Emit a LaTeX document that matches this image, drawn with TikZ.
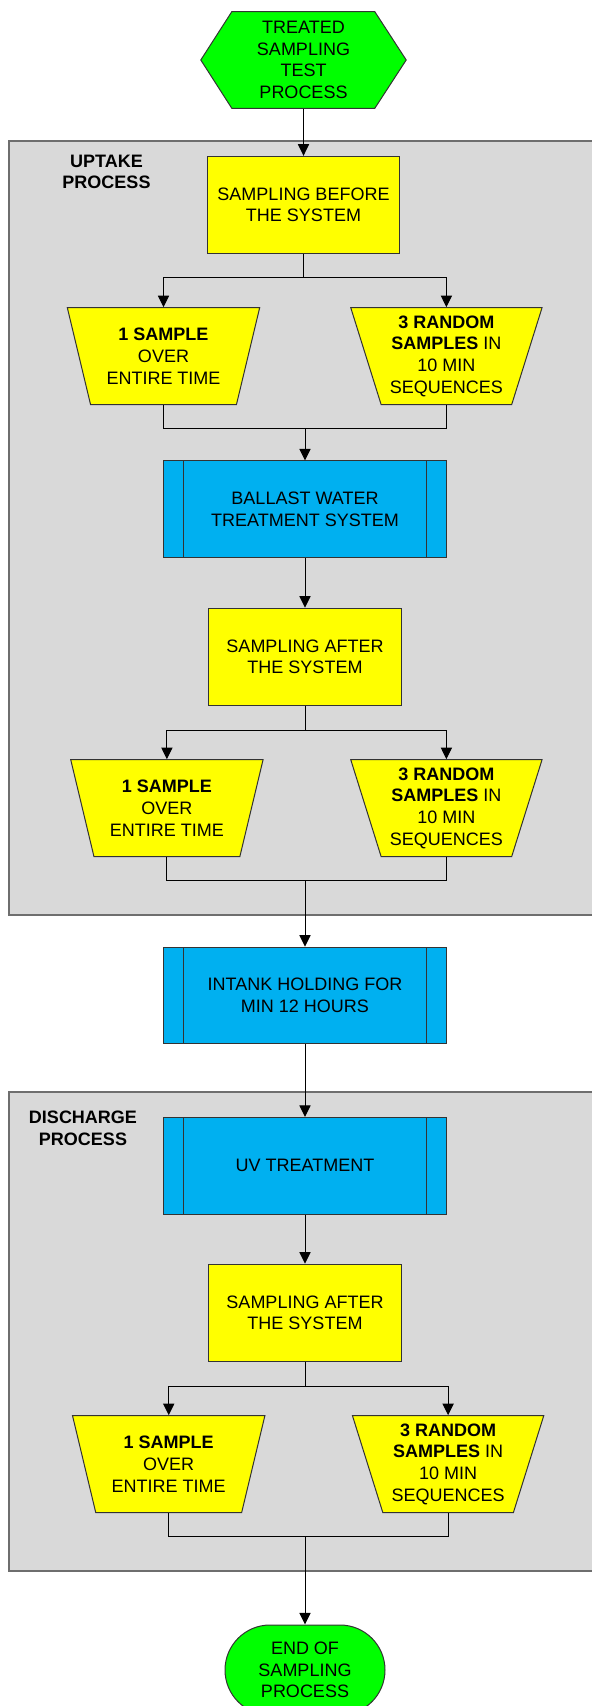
\documentclass[tikz,border=0pt]{standalone}
\usepackage{fontspec}
\setmainfont{Liberation Sans}
\usetikzlibrary{shapes.geometric,shapes.misc,arrows.meta}
\definecolor{startgreen}{HTML}{00FF00}
\definecolor{stepyellow}{HTML}{FFFF00}
\definecolor{procblue}{HTML}{00B0F0}
\definecolor{groupgrey}{HTML}{D9D9D9}
\definecolor{groupline}{HTML}{6E6E6E}
\definecolor{edgeline}{HTML}{333333}

\tikzset{
  every node/.style={font=\fontsize{9}{10.85}\selectfont, align=center, inner sep=0pt},
  groupbox/.style={fill=groupgrey, draw=groupline, line width=1pt},
  grouplabel/.style={font=\fontsize{9}{10.85}\selectfont\bfseries},
  samplebox/.style={draw=edgeline, fill=stepyellow, line width=0.5pt,
    minimum width=96.3pt, minimum height=48.5pt},
  pickbox/.style={trapezium, trapezium left angle=108, trapezium right angle=108,
    trapezium stretches=true, draw=edgeline, fill=stepyellow, line width=0.5pt,
    minimum width=96.25pt, minimum height=48.5pt},
  treatbox/.style={draw=edgeline, fill=procblue, line width=0.5pt,
    minimum width=141.5pt, minimum height=48.3pt,
    path picture={\draw[edgeline, line width=0.5pt]
      ([xshift=9.8pt]path picture bounding box.north west) -- ([xshift=9.8pt]path picture bounding box.south west)
      ([xshift=-9.8pt]path picture bounding box.north east) -- ([xshift=-9.8pt]path picture bounding box.south east);}},
  endbox/.style={rounded rectangle, draw=edgeline, fill=startgreen, line width=0.5pt,
    minimum width=80pt, minimum height=45pt},
  flow/.style={line width=0.5pt, -{Triangle[length=5.8pt,width=5.6pt]}},
  link/.style={line width=0.5pt},
}

\begin{document}
\begin{tikzpicture}[x=0.5pt,y=-0.5pt]
  \useasboundingbox (0,0) rectangle (592,1706);
  % process groups
  \draw[groupbox] (9.4,140.7) rectangle (605,915);
  \draw[groupbox] (9.4,1092.3) rectangle (605,1570.7);
  \node[grouplabel] (uptake) at (106.5,172) {UPTAKE\\PROCESS};
  \node[grouplabel] (discharge) at (83,1128.5) {DISCHARGE\\PROCESS};

  % start
  \filldraw[fill=startgreen, draw=edgeline, line width=0.5pt]
    (200.8,60) -- (231.8,11.7) -- (374.8,11.7) -- (406.2,60) -- (374.8,108.3) -- (231.8,108.3) -- cycle;
  \node[minimum height=48.3pt] (start) at (303.5,60) {TREATED\\SAMPLING\\TEST\\PROCESS};

  % uptake
  \node[samplebox] (before) at (303.5,204.8) {SAMPLING BEFORE\\THE SYSTEM};
  \node[pickbox] (oneA) at (163.5,356.2) {\textbf{1 SAMPLE}\\OVER\\ENTIRE TIME};
  \node[pickbox] (threeA) at (446.4,356.2) {\textbf{3 RANDOM}\\\textbf{SAMPLES} IN\\10 MIN\\SEQUENCES};
  \coordinate (mergeA) at (305,428.7);
  \node[treatbox] (bwts) at (305,509.2) {BALLAST WATER\\TREATMENT SYSTEM};
  \node[samplebox] (afterA) at (305,656.7) {SAMPLING AFTER\\THE SYSTEM};
  \node[pickbox] (oneB) at (166.9,808.2) {\textbf{1 SAMPLE}\\OVER\\ENTIRE TIME};
  \node[pickbox] (threeB) at (446.4,808.2) {\textbf{3 RANDOM}\\\textbf{SAMPLES} IN\\10 MIN\\SEQUENCES};
  \coordinate (mergeB) at (305,880.7);

  % holding
  \node[treatbox] (intank) at (305,995.5) {INTANK HOLDING FOR\\MIN 12 HOURS};

  % discharge
  \node[treatbox] (uv) at (305,1165.7) {UV TREATMENT};
  \node[samplebox] (afterB) at (305,1312.7) {SAMPLING AFTER\\THE SYSTEM};
  \node[pickbox] (oneC) at (168.7,1464.2) {\textbf{1 SAMPLE}\\OVER\\ENTIRE TIME};
  \node[pickbox] (threeC) at (448.1,1464.2) {\textbf{3 RANDOM}\\\textbf{SAMPLES} IN\\10 MIN\\SEQUENCES};
  \coordinate (mergeC) at (305,1536.7);
  \node[endbox] (finish) at (305,1670) {END OF\\SAMPLING\\PROCESS};

  % connectors
  \draw[flow] (start.south) -- (before.north);
  \draw[flow] (before.south) -- ++(0,24) -| (oneA.north);
  \draw[flow] (before.south) -- ++(0,24) -| (threeA.north);
  \draw[link] (oneA.south) |- (mergeA);
  \draw[link] (threeA.south) |- (mergeA);
  \draw[flow] (mergeA) -- (bwts.north);
  \draw[flow] (bwts.south) -- (afterA.north);
  \draw[flow] (afterA.south) -- ++(0,24.3) -| (oneB.north);
  \draw[flow] (afterA.south) -- ++(0,24.3) -| (threeB.north);
  \draw[link] (oneB.south) |- (mergeB);
  \draw[link] (threeB.south) |- (mergeB);
  \draw[flow] (mergeB) -- (intank.north);
  \draw[flow] (intank.south) -- (uv.north);
  \draw[flow] (uv.south) -- (afterB.north);
  \draw[flow] (afterB.south) -- ++(0,24.7) -| (oneC.north);
  \draw[flow] (afterB.south) -- ++(0,24.7) -| (threeC.north);
  \draw[link] (oneC.south) |- (mergeC);
  \draw[link] (threeC.south) |- (mergeC);
  \draw[flow] (mergeC) -- (finish.north);
\end{tikzpicture}
\end{document}
